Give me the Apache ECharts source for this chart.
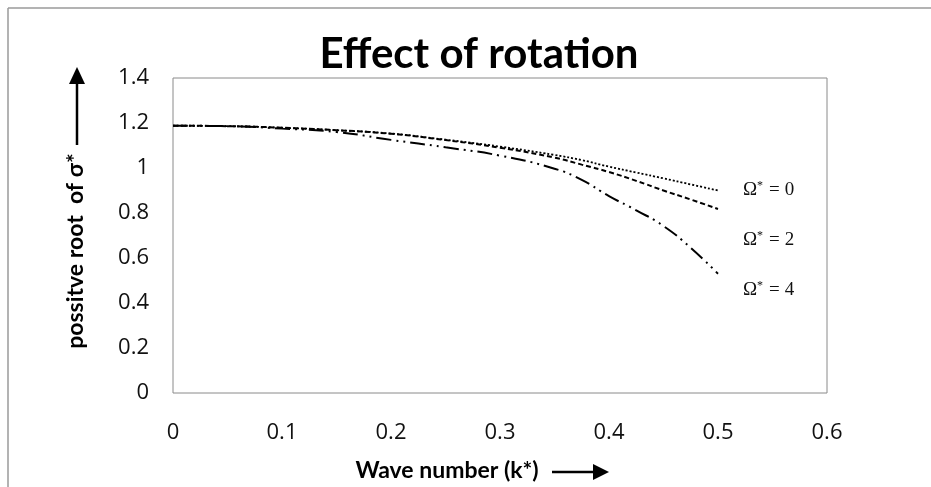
<!DOCTYPE html>
<html>
<head>
<meta charset="utf-8">
<script src="https://cdn.jsdelivr.net/npm/echarts@6/dist/echarts.min.js"></script>
<style>
html,body{margin:0;padding:0;background:#fff;}
#chart{width:931px;height:487px;}
</style>
</head>
<body>
<div id="chart"></div>
<script>
// Data
var waveNumber = [0, 0.05, 0.1, 0.15, 0.2, 0.25, 0.3, 0.35, 0.375, 0.4, 0.425, 0.45, 0.475, 0.5];
var omega0 = [1.188, 1.186, 1.179, 1.168, 1.153, 1.126, 1.095, 1.058, 1.035, 1.006, 0.980, 0.954, 0.927, 0.900];
var omega2 = [1.188, 1.186, 1.179, 1.168, 1.152, 1.124, 1.090, 1.046, 1.015, 0.982, 0.943, 0.900, 0.860, 0.818];
var omega4 = [1.188, 1.186, 1.175, 1.160, 1.125, 1.092, 1.055, 0.997, 0.947, 0.875, 0.812, 0.742, 0.645, 0.530];
var xTicks = [0, 0.1, 0.2, 0.3, 0.4, 0.5, 0.6];
var yTicks = [0, 0.2, 0.4, 0.6, 0.8, 1, 1.2, 1.4];
var seriesLabels = ['0', '2', '4'];

function pairs(ys) { return waveNumber.map(function (k, i) { return [k, ys[i]]; }); }

var chart = echarts.init(document.getElementById('chart'), null, {renderer: 'canvas'});
var tickFont = {fontFamily: '"Open Sans", Lato, sans-serif', fontSize: 22, color: '#111'};

var lineStyles = [
  {type: [2, 2], width: 1.8},
  {type: [5, 3], width: 2},
  {type: [15, 5, 2, 5, 2, 5], width: 2}
];
var data = [omega0, omega2, omega4];
var labelY = [190, 240, 290];
var serif = '"Liberation Serif", "DejaVu Serif", serif';

var graphics = [
  {type: 'line', shape: {x1: 8, y1: 8, x2: 931, y2: 8}, style: {stroke: '#9a9a9a', lineWidth: 1.5}},
  {type: 'line', shape: {x1: 8, y1: 8, x2: 8, y2: 487}, style: {stroke: '#9a9a9a', lineWidth: 1.5}},
  {type: 'text', x: 479, y: 54, style: {text: 'Effect of rotation', font: 'bold 42px Lato, "Open Sans", sans-serif', fill: '#000', textAlign: 'center', textVerticalAlign: 'middle'}},
  {type: 'text', x: 447, y: 471, style: {text: 'Wave number (k*)', font: 'bold 23px Lato, "Open Sans", sans-serif', fill: '#000', textAlign: 'center', textVerticalAlign: 'middle'}},
  {type: 'line', shape: {x1: 552, y1: 472, x2: 596, y2: 472}, style: {stroke: '#000', lineWidth: 2.5}},
  {type: 'polygon', shape: {points: [[593, 464], [609, 472], [593, 480]]}, style: {fill: '#000'}},
  {type: 'text', x: 76, y: 251, rotation: Math.PI / 2, style: {text: 'possitve root  of σ*', font: 'bold 23px Lato, "Open Sans", sans-serif', fill: '#000', textAlign: 'center', textVerticalAlign: 'middle'}},
  {type: 'line', shape: {x1: 77, y1: 145, x2: 77, y2: 80}, style: {stroke: '#000', lineWidth: 2.5}},
  {type: 'polygon', shape: {points: [[69, 84], [77, 67], [85, 84]]}, style: {fill: '#000'}}
];
seriesLabels.forEach(function (s, i) {
  graphics.push({
    type: 'text', x: 743, y: labelY[i],
    style: {
      text: '{a|Ω}{s|*}{e|=}{a|' + s + '}',
      textVerticalAlign: 'middle',
      rich: {
        a: {font: '19px ' + serif, fill: '#111'},
        s: {font: '12px ' + serif, fill: '#111', padding: [0, 0, 8, 0]},
        e: {font: '19px ' + serif, fill: '#111', padding: [0, 5, 0, 6]}
      }
    }
  });
});

var option = {
  animation: false,
  backgroundColor: '#fff',
  grid: {left: 173, top: 78, right: 104, bottom: 94, show: true, borderColor: '#8a8a8a', borderWidth: 1, backgroundColor: 'transparent'},
  xAxis: {
    type: 'value', min: 0, max: 0.6, interval: 0.1,
    axisLine: {show: false}, axisTick: {show: false}, splitLine: {show: false},
    axisLabel: Object.assign({margin: 29, formatter: function (v) { return String(+v.toFixed(1)); }}, tickFont)
  },
  yAxis: {
    type: 'value', min: 0, max: 1.4, interval: 0.2,
    axisLine: {show: false}, axisTick: {show: false}, splitLine: {show: false},
    axisLabel: Object.assign({margin: 24, formatter: function (v) { return String(+v.toFixed(1)); }}, tickFont)
  },
  series: data.map(function (d, i) {
    return {
      type: 'line', data: pairs(d), smooth: true, showSymbol: false, symbol: 'none',
      lineStyle: Object.assign({color: '#000'}, lineStyles[i])
    };
  }),
  graphic: graphics
};
chart.setOption(option);
</script>
</body>
</html>
